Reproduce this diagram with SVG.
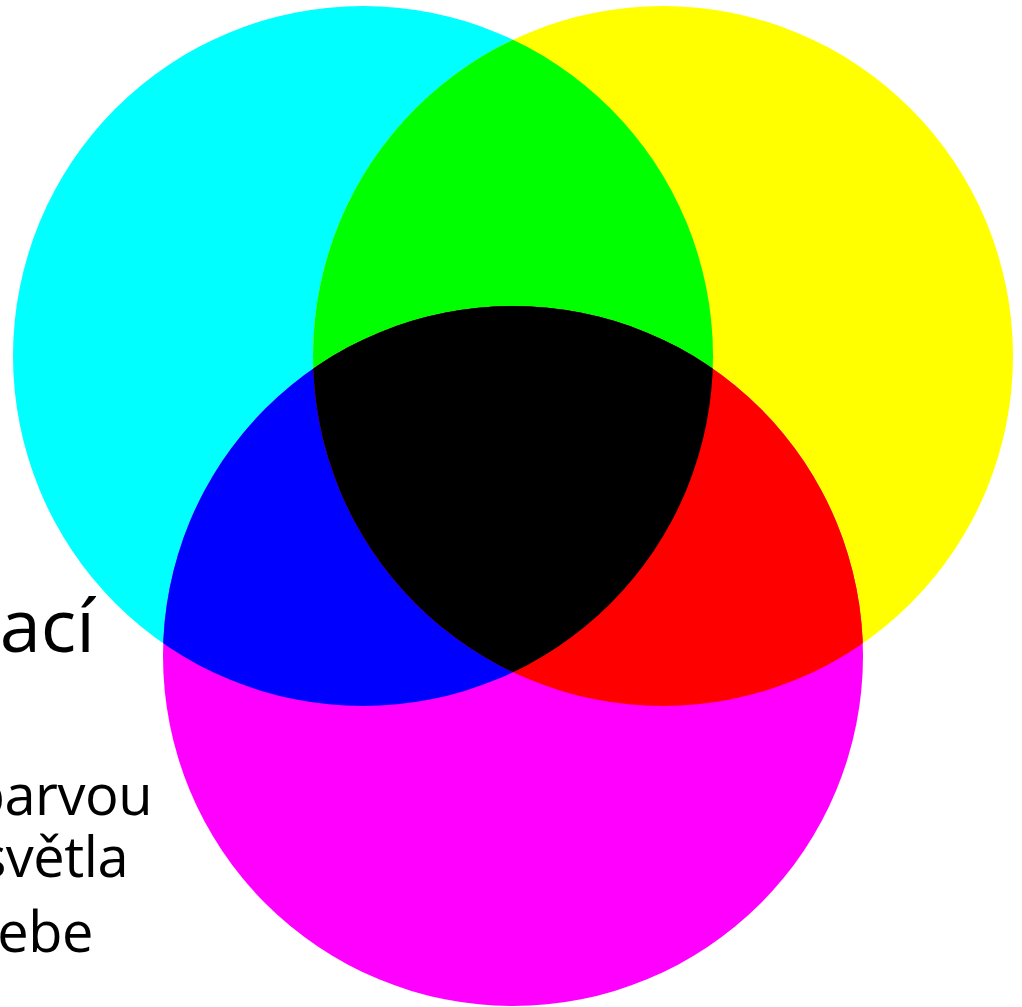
<svg xmlns="http://www.w3.org/2000/svg" width="1022" height="1007" viewBox="0 0 1022 1007">
<style>
.t{font-family:"Open Sans","Noto Sans",sans-serif;fill:#000;text-anchor:end}
</style>
<defs>
<clipPath id="cc"><circle cx="363" cy="356" r="350"/></clipPath>
<clipPath id="cy"><circle cx="663" cy="356" r="350"/></clipPath>
</defs>
<rect width="1022" height="1007" fill="#fff"/>
<g id="text">
<text class="t" x="95" y="652" font-size="74">ací</text>
<text class="t" x="152" y="815" font-size="56" letter-spacing="-0.5">barvou</text>
<text class="t" x="128" y="877" font-size="56" letter-spacing="-0.5">světla</text>
<text class="t" x="93" y="952" font-size="56" letter-spacing="-0.5">ebe</text>
</g>
<g id="cyan"><circle cx="363" cy="356" r="350" fill="#00ffff"/></g>
<g id="yellow"><circle cx="663" cy="356" r="350" fill="#ffff00"/></g>
<g id="magenta"><circle cx="513" cy="656" r="350" fill="#ff00ff"/></g>
<g id="green" clip-path="url(#cc)"><circle cx="663" cy="356" r="350" fill="#00ff00"/></g>
<g id="blue" clip-path="url(#cc)"><circle cx="513" cy="656" r="350" fill="#0000ff"/></g>
<g id="red" clip-path="url(#cy)"><circle cx="513" cy="656" r="350" fill="#ff0000"/></g>
<g id="black" clip-path="url(#cc)"><g clip-path="url(#cy)"><circle cx="513" cy="656" r="350" fill="#000"/></g></g>
</svg>
